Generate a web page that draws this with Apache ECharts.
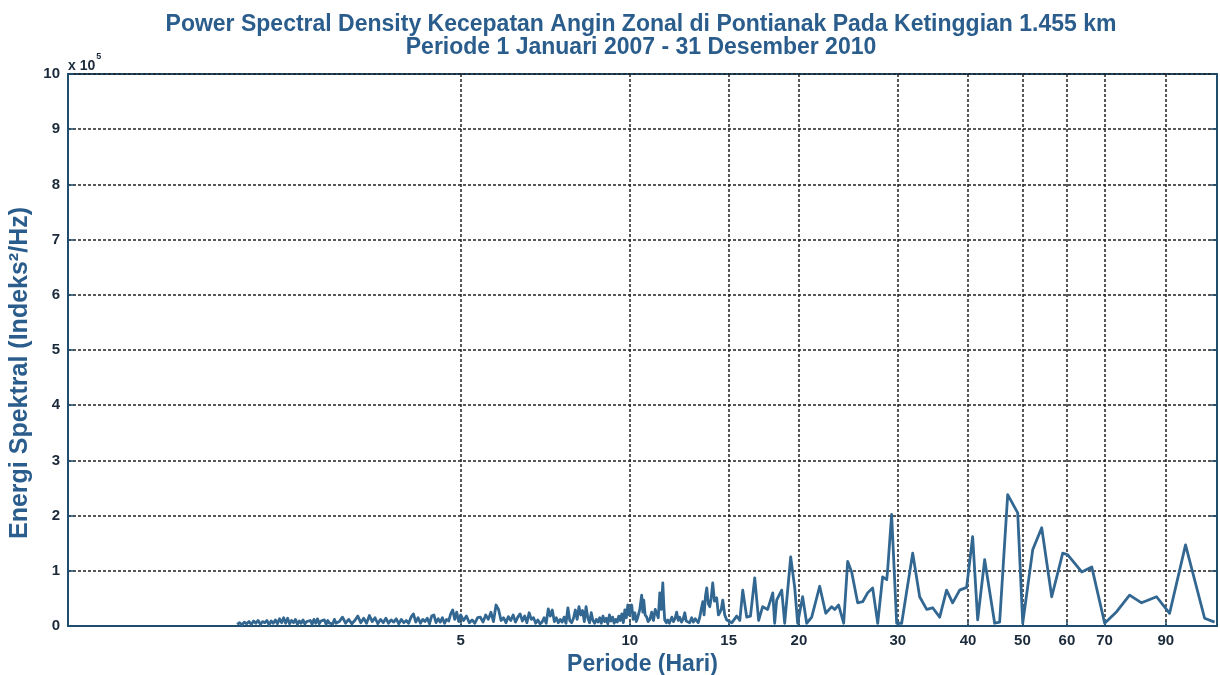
<!DOCTYPE html>
<html>
<head>
<meta charset="utf-8">
<script src="https://cdn.jsdelivr.net/npm/echarts@6/dist/echarts.min.js"></script>
<style>
html,body{margin:0;padding:0;background:#fff;}
#chart{width:1220px;height:675px;}
</style>
</head>
<body>
<div id="chart"></div>
<script>
// ---- data (energy in units of 1e5 Indeks^2/Hz, period in days) ----
const titleLines = ['Power Spectral Density Kecepatan Angin Zonal di Pontianak Pada Ketinggian 1.455 km',
                    'Periode 1 Januari 2007 - 31 Desember 2010'];
const xTickLabels = [5, 10, 15, 20, 30, 40, 50, 60, 70, 90];
const yTickLabels = [0, 1, 2, 3, 4, 5, 6, 7, 8, 9, 10];

// period 2 - 3 days
const periodsA = [2.00,2.02,2.04,2.06,2.08,2.10,2.12,2.14,2.16,2.18,2.20,2.22,2.24,2.26,2.28,2.30,2.32,2.34,2.36,2.38,2.40,2.42,2.44,2.46,2.48,2.50,2.52,2.54,2.56,2.58,2.60,2.62,2.64,2.66,2.68,2.70,2.72,2.74,2.76,2.78,2.80,2.82,2.84,2.86,2.88,2.90,2.92,2.94,2.96,2.98,3.00];
const valuesA  = [0.03,0.06,0.02,0.07,0.04,0.08,0.03,0.09,0.05,0.10,0.03,0.08,0.06,0.10,0.02,0.09,0.05,0.11,0.04,0.13,0.06,0.15,0.05,0.14,0.04,0.10,0.06,0.12,0.03,0.09,0.05,0.11,0.04,0.08,0.06,0.10,0.03,0.12,0.05,0.13,0.04,0.09,0.06,0.11,0.03,0.10,0.05,0.08,0.04,0.12,0.05];

// period 3 - 5 days
const periodsB = [3.04,3.08,3.12,3.16,3.20,3.24,3.28,3.32,3.36,3.40,3.44,3.48,3.52,3.56,3.60,3.64,3.68,3.72,3.76,3.80,3.84,3.88,3.92,3.96,4.00,4.04,4.08,4.12,4.16,4.20,4.24,4.28,4.32,4.36,4.40,4.44,4.48,4.52,4.56,4.60,4.64,4.68,4.72,4.76,4.80,4.84,4.88,4.92,4.96,5.00];
const valuesB  = [0.08,0.16,0.05,0.12,0.04,0.10,0.18,0.06,0.14,0.05,0.19,0.08,0.15,0.04,0.12,0.06,0.14,0.05,0.11,0.07,0.13,0.04,0.12,0.06,0.10,0.05,0.16,0.22,0.07,0.15,0.05,0.12,0.08,0.14,0.04,0.18,0.20,0.06,0.13,0.07,0.15,0.05,0.12,0.09,0.22,0.29,0.12,0.25,0.08,0.20];

// period 5 - 10 days
const periodsC = [5.06,5.12,5.18,5.24,5.30,5.36,5.42,5.48,5.54,5.60,5.66,5.72,5.78,5.84,5.90,5.96,6.02,6.08,6.14,6.20,6.26,6.32,6.38,6.44,6.50,6.56,6.62,6.68,6.74,6.80,6.86,6.92,6.98,7.04,7.10,7.16,7.22,7.28,7.34,7.40,7.46,7.52,7.58,7.64,7.70,7.76,7.82,7.88,7.94,8.00,8.06,8.12,8.18,8.24,8.30,8.36,8.42,8.48,8.54,8.60,8.66,8.72,8.78,8.84,8.90,8.96,9.02,9.08,9.14,9.20,9.26,9.32,9.38,9.44,9.50,9.56,9.62,9.68,9.74,9.80,9.86,9.92,9.98];
const valuesC  = [0.10,0.18,0.06,0.11,0.05,0.15,0.16,0.07,0.20,0.12,0.25,0.08,0.38,0.30,0.10,0.15,0.06,0.17,0.10,0.20,0.07,0.16,0.22,0.09,0.18,0.06,0.24,0.12,0.15,0.05,0.11,0.04,0.07,0.15,0.05,0.31,0.18,0.29,0.08,0.15,0.06,0.12,0.07,0.16,0.05,0.33,0.10,0.06,0.14,0.29,0.12,0.35,0.20,0.28,0.08,0.35,0.15,0.06,0.24,0.10,0.05,0.12,0.07,0.15,0.05,0.18,0.08,0.14,0.04,0.20,0.09,0.16,0.05,0.12,0.07,0.18,0.10,0.22,0.06,0.29,0.15,0.38,0.20];

// period 10 - 15 days
const periodsD = [10.04,10.08,10.14,10.21,10.27,10.33,10.42,10.50,10.55,10.59,10.65,10.72,10.78,10.86,10.94,11.02,11.10,11.17,11.24,11.31,11.38,11.45,11.50,11.54,11.62,11.68,11.76,11.88,11.96,12.04,12.12,12.20,12.27,12.36,12.44,12.53,12.60,12.68,12.78,12.89,12.98,13.08,13.16,13.24,13.32,13.40,13.49,13.56,13.64,13.71,13.80,13.88,13.96,14.05,14.15,14.28,14.38,14.46,14.55,14.64,14.76,14.88];
const valuesD  = [0.20,0.38,0.12,0.24,0.08,0.15,0.30,0.56,0.25,0.47,0.20,0.16,0.08,0.12,0.25,0.10,0.30,0.33,0.15,0.60,0.30,0.78,0.35,0.11,0.06,0.11,0.05,0.16,0.08,0.14,0.25,0.10,0.16,0.07,0.12,0.24,0.09,0.11,0.06,0.15,0.07,0.13,0.11,0.06,0.15,0.30,0.44,0.20,0.55,0.69,0.40,0.35,0.50,0.78,0.45,0.51,0.20,0.24,0.30,0.47,0.20,0.11];

// period 15 - 110 days
const periodsE = [15.2,15.5,15.7,15.89,16.15,16.4,16.69,16.96,17.24,17.60,17.97,18.11,18.26,18.64,18.87,19.34,19.66,19.90,20.31,20.65,21.08,21.78,22.33,22.88,23.16,23.54,24.03,24.43,24.83,25.45,25.98,26.51,27.06,27.63,28.19,28.67,28.77,29.25,29.86,30.48,31.89,32.81,33.77,34.61,35.62,36.64,37.56,38.66,39.78,40.77,41.62,42.83,44.62,45.54,47.07,49.04,50.06,52.15,54.11,56.38,58.98,60.21,63.76,66.43,70.04,73.56,77.58,81.47,86.64,91.40,97.57,105.5,109.9];
const valuesE  = [0.06,0.18,0.10,0.65,0.16,0.18,0.87,0.10,0.35,0.30,0.60,0.05,0.47,0.65,0.05,1.25,0.70,0.05,0.53,0.05,0.16,0.72,0.23,0.35,0.30,0.38,0.05,1.17,0.98,0.42,0.44,0.60,0.69,0.05,0.89,0.84,1.00,2.02,0.05,0.05,1.32,0.53,0.30,0.33,0.16,0.65,0.42,0.65,0.70,1.62,0.11,1.20,0.05,0.07,2.38,2.05,0.05,1.38,1.78,0.53,1.32,1.29,0.98,1.07,0.05,0.26,0.56,0.42,0.53,0.23,1.47,0.14,0.07];

const xMinPeriod = 1, xMaxPeriod = 111;

// ---- build ----
const periods = [].concat(periodsA, periodsB, periodsC, periodsD, periodsE);
const values  = [].concat(valuesA, valuesB, valuesC, valuesD, valuesE);
const seriesData = periods.map((p, i) => [Math.log10(p), values[i]]);
const xTickPos = xTickLabels.map(v => Math.log10(v));

const blue = '#2a5d8c';
const axisCol = '#1f4d6e';
const font = '"Liberation Sans", Arial, sans-serif';

const chart = echarts.init(document.getElementById('chart'), null, {renderer: 'canvas'});
chart.setOption({
  backgroundColor: '#ffffff',
  animation: false,
  title: {
    text: titleLines.join('\n'),
    left: 636,
    textAlign: 'center',
    top: 8,
    textStyle: {fontFamily: font, fontWeight: 'bold', fontSize: 23, color: blue, lineHeight: 23}
  },
  grid: {left: 68, right: 3, top: 74, bottom: 49, show: true, borderColor: axisCol, borderWidth: 2,
         containLabel: false, outerBoundsMode: 'none'},
  xAxis: {
    type: 'value',
    min: Math.log10(xMinPeriod),
    max: Math.log10(xMaxPeriod),
    name: 'Periode (Hari)',
    nameLocation: 'middle',
    nameGap: 25,
    nameTextStyle: {fontFamily: font, fontWeight: 'bold', fontSize: 23, color: blue},
    axisLine: {show: true, lineStyle: {color: axisCol, width: 2}},
    axisTick: {show: true, inside: true, length: 5, customValues: xTickPos, lineStyle: {color: axisCol, width: 1.5}},
    axisLabel: {
      customValues: xTickPos,
      margin: 7,
      fontFamily: font, fontWeight: 'bold', fontSize: 15, color: '#1a2a3a',
      formatter: v => String(Math.round(Math.pow(10, v)))
    },
    splitLine: {show: true, lineStyle: {color: '#222', width: 1.5, type: [3, 2]}}
  },
  yAxis: [{
    type: 'value',
    min: yTickLabels[0],
    max: yTickLabels[yTickLabels.length - 1],
    interval: 1,
    name: 'Energi Spektral (Indeks²/Hz)',
    nameLocation: 'middle',
    nameGap: 34,
    nameTextStyle: {fontFamily: font, fontWeight: 'bold', fontSize: 25, color: blue, padding: [0, 46, 0, 0]},
    axisLine: {show: true, lineStyle: {color: axisCol, width: 2}},
    axisTick: {show: true, inside: true, length: 6, lineStyle: {color: axisCol, width: 1.5}},
    axisLabel: {margin: 8, fontFamily: font, fontWeight: 'bold', fontSize: 15, color: '#1a2a3a'},
    splitLine: {show: true, lineStyle: {color: '#222', width: 1.5, type: [3, 2]}}
  }, {
    type: 'value',
    position: 'right',
    min: yTickLabels[0],
    max: yTickLabels[yTickLabels.length - 1],
    interval: 1,
    axisLine: {show: true, lineStyle: {color: axisCol, width: 2}},
    axisTick: {show: true, inside: true, length: 6, lineStyle: {color: axisCol, width: 1.5}},
    axisLabel: {show: false},
    splitLine: {show: false}
  }],
  graphic: [{
    type: 'text',
    left: 68,
    top: 52,
    style: {
      text: '{a|x 10}{b|5}',
      rich: {
        a: {fontFamily: font, fontWeight: 'bold', fontSize: 14, fill: '#1a2a3a', verticalAlign: 'bottom', padding: [7, 0, 0, 0]},
        b: {fontFamily: font, fontWeight: 'bold', fontSize: 9, fill: '#1a2a3a', verticalAlign: 'top', padding: [0, 0, 9, 1]}
      }
    }
  }],
  series: [{
    type: 'line',
    data: seriesData,
    showSymbol: false,
    symbol: 'none',
    clip: true,
    lineStyle: {color: '#326792', width: 2.8, join: 'round'},
    z: 5
  }]
});
</script>
</body>
</html>
